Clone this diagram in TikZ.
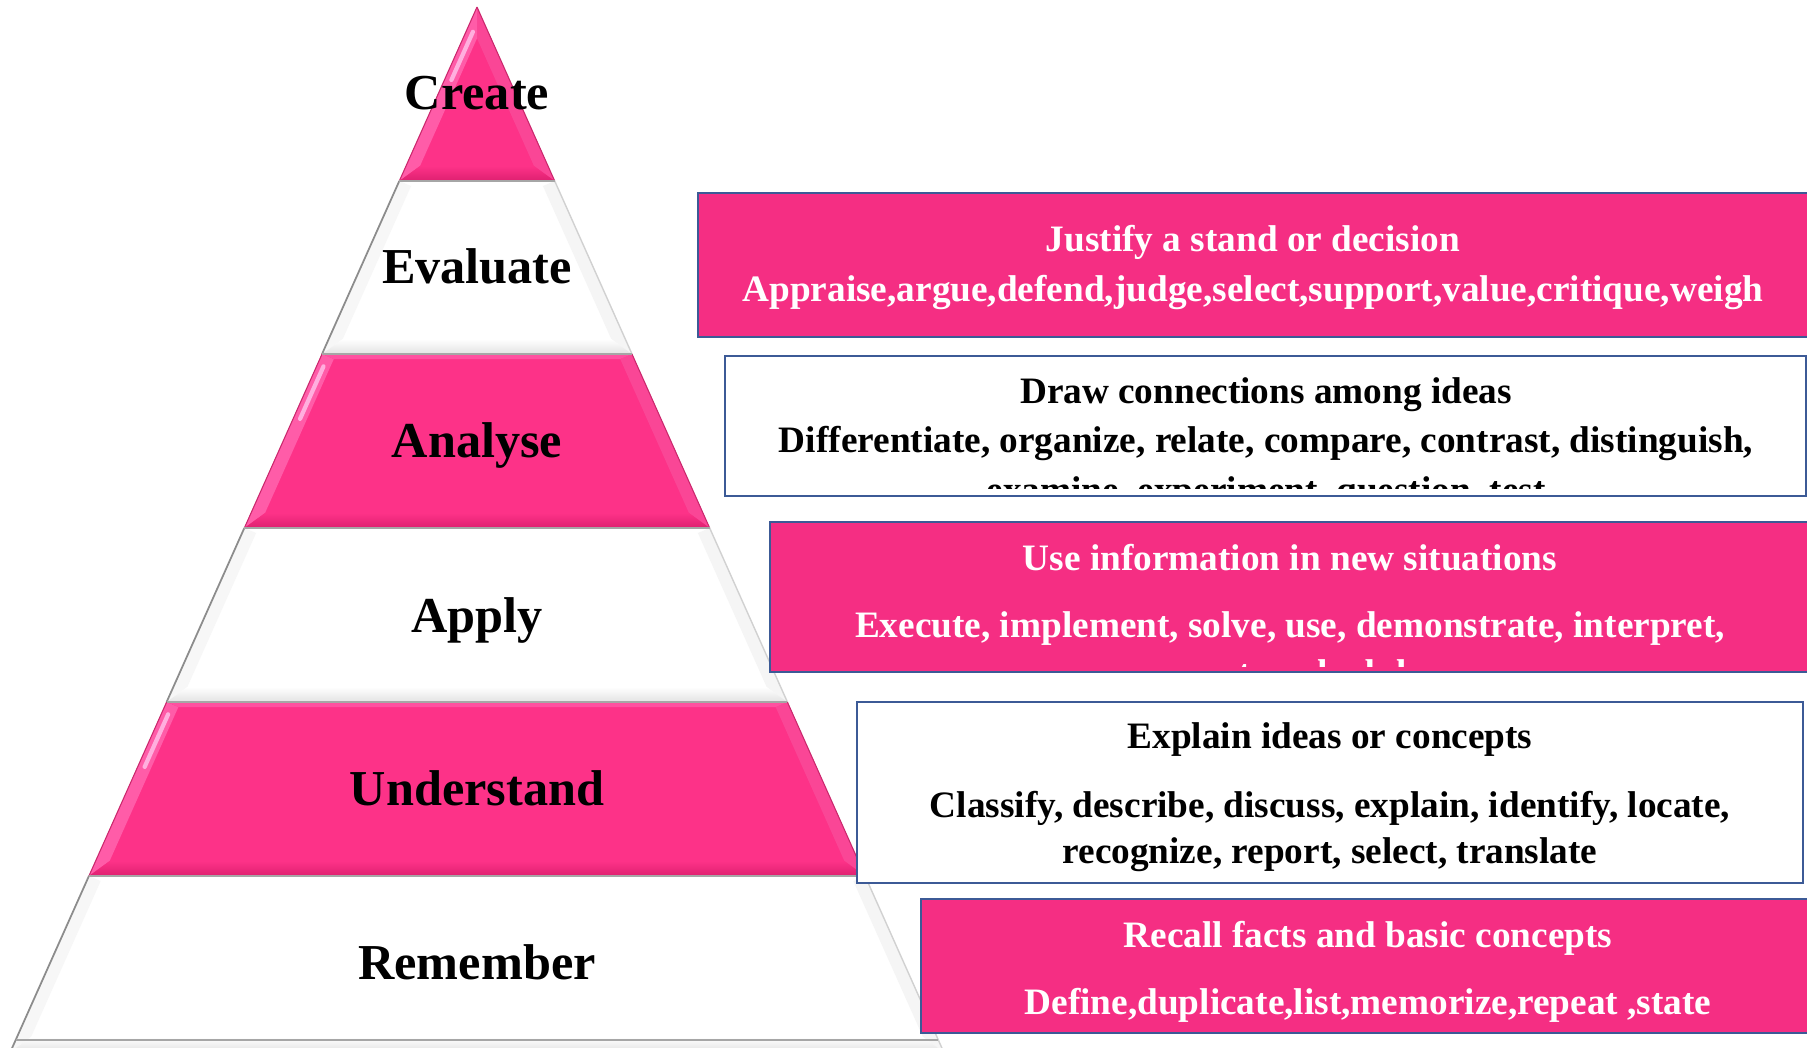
\documentclass[tikz,border=0pt]{standalone}
\usepackage{fontspec}
\setmainfont{Liberation Serif}
\usetikzlibrary{calc}

\definecolor{pyrpink}{RGB}{253,50,136}
\definecolor{pinklight}{RGB}{255,92,168}
\definecolor{pinkright}{RGB}{250,70,150}
\definecolor{pinktop}{RGB}{255,80,160}
\definecolor{pinkdark}{RGB}{222,32,112}
\definecolor{pinkglow}{RGB}{255,175,222}
\definecolor{boxpink}{RGB}{245,46,131}
\definecolor{boxedge}{RGB}{60,90,150}

% geometry of one tier of the pyramid (apex at x=477, y=7, slope 0.4466)
\newcommand\tiergeom[2]{%
  \pgfmathsetmacro\yt{#1}%
  \pgfmathsetmacro\yb{#2}%
  \pgfmathsetmacro\hwt{0.4466*(#1-7)}%
  \pgfmathsetmacro\hwb{0.4466*(#2-7)}%
  \pgfmathsetmacro\yin{max(#1+5,7+14/0.4466)}%
  \pgfmathsetmacro\yjn{#2-15}%
  \pgfmathsetmacro\hwi{max(0.4466*(\yin-7)-14,0)}%
  \pgfmathsetmacro\hwj{0.4466*(\yjn-7)-14}%
  \coordinate (oTL) at ({477-\hwt},\yt);
  \coordinate (oTR) at ({477+\hwt},\yt);
  \coordinate (oBL) at ({477-\hwb},\yb);
  \coordinate (oBR) at ({477+\hwb},\yb);
  \coordinate (iTL) at ({477-\hwi},\yin);
  \coordinate (iTR) at ({477+\hwi},\yin);
  \coordinate (iBL) at ({477-\hwj},\yjn);
  \coordinate (iBR) at ({477+\hwj},\yjn);
  \coordinate (mA) at ($(oTL)!0.5!(iTL)$);
  \coordinate (mB) at ($(oBL)!0.5!(iBL)$);
}

% bevelled pink tier
\newcommand\pinktier[2]{%
  \tiergeom{#1}{#2}
  \fill[pyrpink] (oTL) -- (oTR) -- (oBR) -- (oBL) -- cycle;
  \fill[pinklight] (oTL) -- (iTL) -- (iBL) -- (oBL) -- cycle;
  \fill[pinkright] (oTR) -- (iTR) -- (iBR) -- (oBR) -- cycle;
  \fill[pinktop] (oTL) -- (oTR) -- (iTR) -- (iTL) -- cycle;
  \shade[top color=pyrpink, bottom color=pinkdark]
    (oBL) -- (oBR) -- (iBR) -- (iBL) -- cycle;
  \draw[pinkglow, line width=1.2pt, line cap=round]
    ($(mA)!0.06!(mB)$) -- ($(mA)!0.38!(mB)$);
  \draw[pyrpink!80!black, line width=0.3pt] (oTL) -- (oBL) (oTR) -- (oBR);
}

% bevelled white tier
\newcommand\whitetier[2]{%
  \tiergeom{#1}{#2}
  \fill[white] (oTL) -- (oTR) -- (oBR) -- (oBL) -- cycle;
  \fill[black!3] (oTL) -- (iTL) -- (iBL) -- (oBL) -- cycle;
  \fill[black!4] (oTR) -- (iTR) -- (iBR) -- (oBR) -- cycle;
  \shade[top color=white, bottom color=black!11]
    (oBL) -- (oBR) -- (iBR) -- (iBL) -- cycle;
  \draw[black!45, line width=0.5pt] (oTL) -- (oBL);
  \draw[black!18, line width=0.4pt] (oTR) -- (oBR);
}

\begin{document}
\begin{tikzpicture}[x=0.01cm, y=-0.01cm,
  lvl/.style={font=\fontsize{14.3pt}{17pt}\selectfont\bfseries,
              anchor=base, inner sep=0pt},
  bx/.style={font=\fontsize{10.6pt}{12.7pt}\selectfont\bfseries,
             anchor=base, inner sep=0pt},
  wtxt/.style={bx, text=white},
  ktxt/.style={bx, text=black},
  pinkbox/.style={fill=boxpink, draw=boxedge, line width=0.75pt},
  whitebox/.style={fill=white, draw=boxedge, line width=0.75pt}]

\clip (0,0) rectangle (1807,1047);
\fill[white] (0,0) rectangle (1807,1047);

% pyramid tiers, top to bottom
\pinktier{7}{181}
\whitetier{181}{354}
\pinktier{354}{528}
\whitetier{528}{702}
\pinktier{702}{876}
\whitetier{876}{1052}

% thin shadows under each tier
\foreach \y in {181,354,528,702,876,1040}
  \draw[black!35, line width=0.45pt]
    ({477-0.4466*(\y-7)},\y) -- ({477+0.4466*(\y-7)},\y);

% tier labels
\node[lvl] (create)     at (477,109) {Create};
\node[lvl] (evaluate)   at (477,283) {Evaluate};
\node[lvl] (analyse)    at (477,457) {Analyse};
\node[lvl] (apply)      at (477,632) {Apply};
\node[lvl] (understand) at (477,805) {Understand};
\node[lvl] (remember)   at (477,979) {Remember};

% description boxes
\draw[pinkbox]  (698,193) rectangle (1840,337);
\draw[whitebox] (725,356) rectangle (1806,496);
\draw[pinkbox]  (770,522) rectangle (1840,672);
\draw[whitebox] (857,702) rectangle (1803,883);
\draw[pinkbox]  (921,899) rectangle (1840,1033);

% Evaluate
\node[wtxt] (ev1) at (1253,251) {Justify a stand or decision};
\node[wtxt] (ev2) at (1253,301) {Appraise,argue,defend,judge,select,support,value,critique,weigh};

% Analyse
\node[ktxt] (an1) at (1266,403) {Draw connections among ideas};
\node[ktxt] (an2) at (1266,452) {Differentiate, organize, relate, compare, contrast, distinguish,};
\begin{scope}
  \clip (725,356) rectangle (1806,488);
  \node[ktxt] (an3) at (1266,502) {examine, experiment, question, test};
\end{scope}

% Apply
\node[wtxt] (ap1) at (1290,570) {Use information in new situations};
\node[wtxt] (ap2) at (1290,637) {Execute, implement, solve, use, demonstrate, interpret,};
\begin{scope}
  \clip (770,522) rectangle (1807,666);
  \node[wtxt] (ap3) at (1290,685) {operate, schedule,};
\end{scope}

% Understand
\node[ktxt] (un1) at (1330,748) {Explain ideas or concepts};
\node[ktxt] (un2) at (1330,817) {Classify, describe, discuss, explain, identify, locate,};
\node[ktxt] (un3) at (1330,863) {recognize, report, select, translate};

% Remember
\node[wtxt] (re1) at (1368,947) {Recall facts and basic concepts};
\node[wtxt] (re2) at (1368,1014) {Define,duplicate,list,memorize,repeat ,state};

\end{tikzpicture}
\end{document}
